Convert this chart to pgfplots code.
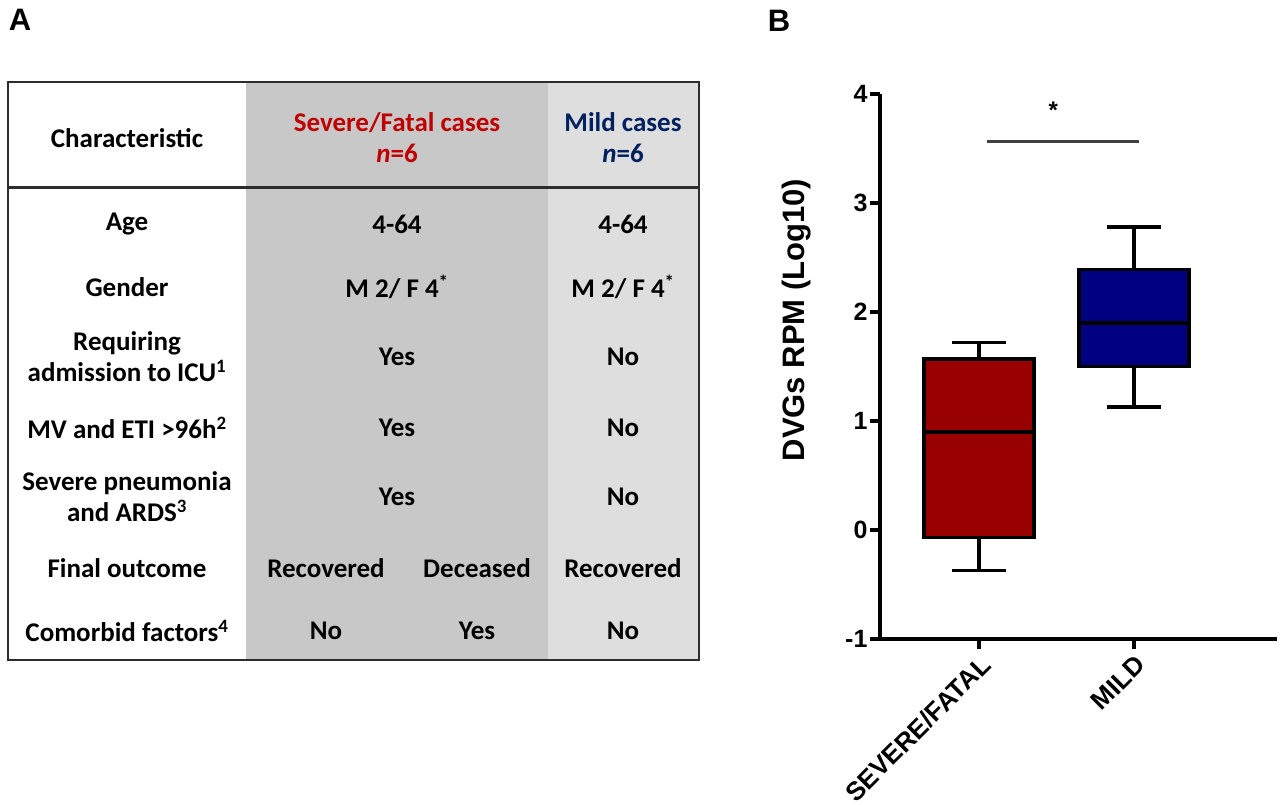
\documentclass[border=0pt]{standalone}
\usepackage{pgfplots}
\pgfplotsset{compat=1.18}
\usepgfplotslibrary{statistics}
\usepackage{fontspec}
\setmainfont{Carlito}
\newfontfamily\arialf{Liberation Sans}
\definecolor{sevred}{RGB}{192,0,0}
\definecolor{mildblue}{RGB}{0,32,96}
\definecolor{boxred}{RGB}{153,0,0}
\definecolor{boxblue}{RGB}{0,0,128}
\definecolor{darkgr}{RGB}{200,200,200}
\definecolor{lightgr}{RGB}{222,222,222}
\definecolor{rulec}{RGB}{45,45,45}

\begin{document}
\begin{tikzpicture}
\useasboundingbox (0,0) rectangle (1286pt,805pt);
\tikzset{tbl/.style={font=\bfseries\fontsize{27}{31}\selectfont, align=center, inner sep=0pt},
         plab/.style={font=\arialf\bfseries\fontsize{31}{31}\selectfont, inner sep=0pt}}

% panel A: the table, on a pixel grid
\begin{axis}[at={(0,0)}, anchor=south west, scale only axis,
  width=1286pt, height=805pt, xmin=0, xmax=1286, ymin=0, ymax=805,
  y dir=reverse, hide axis, clip=false]
\fill[darkgr] (axis cs:246,82) rectangle (axis cs:548,660);
\fill[lightgr] (axis cs:548,82) rectangle (axis cs:699,660);
\draw[rulec, line width=2.5pt] (axis cs:8,82) rectangle (axis cs:699,660);
\draw[rulec, line width=3pt] (axis cs:8,188) -- (axis cs:699,188);

\node[plab] at (axis cs:20,20) {A};
\node[plab] at (axis cs:779,21) {B};

\node[tbl] at (axis cs:127,138) {Characteristic};
\node[tbl, text=sevred] at (axis cs:397,138) {Severe/Fatal cases\\\textit{n}=6};
\node[tbl, text=mildblue] at (axis cs:623,138) {Mild cases\\\textit{n}=6};

\node[tbl] at (axis cs:127,224) {Age};
\node[tbl] at (axis cs:397,224) {4-64};
\node[tbl] at (axis cs:623,224) {4-64};

\node[tbl] at (axis cs:127,287) {Gender};
\node[tbl] at (axis cs:397,287) {M 2/ F 4\textsuperscript{*}};
\node[tbl] at (axis cs:623,287) {M 2/ F 4\textsuperscript{*}};

\node[tbl] at (axis cs:127,357) {Requiring\\admission to ICU\textsuperscript{1}};
\node[tbl] at (axis cs:397,357) {Yes};
\node[tbl] at (axis cs:623,357) {No};

\node[tbl] at (axis cs:127,428) {MV and ETI >96h\textsuperscript{2}};
\node[tbl] at (axis cs:397,428) {Yes};
\node[tbl] at (axis cs:623,428) {No};

\node[tbl] at (axis cs:127,497) {Severe pneumonia\\and ARDS\textsuperscript{3}};
\node[tbl] at (axis cs:397,497) {Yes};
\node[tbl] at (axis cs:623,497) {No};

\node[tbl] at (axis cs:127,568) {Final outcome};
\node[tbl] at (axis cs:326,568) {Recovered};
\node[tbl] at (axis cs:477,568) {Deceased};
\node[tbl] at (axis cs:623,568) {Recovered};

\node[tbl] at (axis cs:127,631) {Comorbid factors\textsuperscript{4}};
\node[tbl] at (axis cs:326,631) {No};
\node[tbl] at (axis cs:477,631) {Yes};
\node[tbl] at (axis cs:623,631) {No};

\node[font=\arialf\bfseries\fontsize{31}{31}\selectfont, rotate=90] at (axis cs:797,320) {DVGs RPM (Log10)};
\end{axis}

% panel B: box plot
\begin{axis}[at={(880pt,166pt)}, anchor=south west, scale only axis,
  width=397pt, height=545pt,
  xmin=0.361, xmax=2.923, ymin=-1, ymax=4,
  axis x line*=bottom, axis y line*=left,
  axis line style={line width=3.5pt, -},
  every tick/.style={black, line width=3.5pt},
  major tick length=10pt, tick align=outside,
  xtick={1,2}, xticklabels={SEVERE/FATAL,MILD},
  x tick label style={rotate=45, anchor=north east, font=\arialf\bfseries\fontsize{26}{26}\selectfont},
  ytick={-1,0,1,2,3,4}, yticklabels={-1,0,1,2,3,4},
  y tick label style={font=\arialf\bfseries\fontsize{25}{25}\selectfont, xshift=1pt},
  boxplot/draw direction=y,
  clip=false]
\addplot[boxplot prepared={draw position=1, median=0.90, upper quartile=1.57,
  lower quartile=-0.07, upper whisker=1.72, lower whisker=-0.37,
  box extend=0.71, whisker extend=0.35},
  draw=black, line width=3.5pt, fill=boxred] coordinates {};
\addplot[boxplot prepared={draw position=2, median=1.90, upper quartile=2.39,
  lower quartile=1.50, upper whisker=2.78, lower whisker=1.13,
  box extend=0.71, whisker extend=0.35},
  draw=black, line width=3.5pt, fill=boxblue] coordinates {};
% significance bar
\addplot[line width=3pt, black!75, no marks] coordinates {(1.05,3.56) (2.03,3.56)};
\node[font=\arialf\bfseries\fontsize{24}{24}\selectfont] at (axis cs:1.48,3.85) {*};
\end{axis}
\end{tikzpicture}
\end{document}
